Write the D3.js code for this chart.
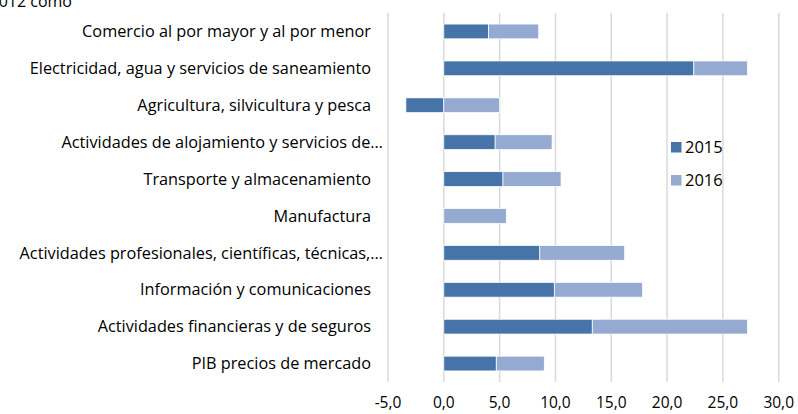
<!DOCTYPE html>
<html>
<head>
<meta charset="utf-8">
<script src="https://cdn.jsdelivr.net/npm/d3@7"></script>
<style>
  body { margin: 0; background: #fff; }
  text { font-family: "Open Sans", Lato, sans-serif; fill: #000; }
</style>
</head>
<body>
<div id="chart"></div>
<script>
  // sectors, top to bottom
  const sectors = [
    "Comercio al por mayor y al por menor",
    "Electricidad, agua y servicios de saneamiento",
    "Agricultura, silvicultura y pesca",
    "Actividades de alojamiento y servicios de…",
    "Transporte y almacenamiento",
    "Manufactura",
    "Actividades profesionales, científicas, técnicas,…",
    "Información y comunicaciones",
    "Actividades financieras y de seguros",
    "PIB precios de mercado"
  ];
  const values2015 = [4.0, 22.4, -3.4, 4.6, 5.3, 0.0, 8.6, 9.9, 13.3, 4.7];
  const values2016 = [4.5, 4.8, 5.0, 5.1, 5.2, 5.6, 7.6, 7.9, 13.9, 4.3];
  const xTicks = [-5, 0, 5, 10, 15, 20, 25, 30];
  const seriesNames = ["2015", "2016"];
  const colors = ["#4674a8", "#95aad1"];

  const width = 798, height = 414;
  const svg = d3.select("#chart").append("svg")
    .attr("width", width)
    .attr("height", height);

  const x = d3.scaleLinear().domain([-5, 30]).range([388, 778.7]);
  const y = d3.scaleBand().domain(sectors).range([13, 382]).paddingInner(0.6).paddingOuter(0.3);

  // cut-off title line at the top
  svg.append("text")
    .attr("x", 72)
    .attr("y", 7)
    .attr("text-anchor", "end")
    .style("font-size", "16px")
    .text("2012 como");

  // vertical gridlines
  svg.append("g").selectAll("line")
    .data(xTicks)
    .enter().append("line")
    .attr("x1", d => x(d)).attr("x2", d => x(d))
    .attr("y1", 13).attr("y2", 382)
    .attr("stroke", "#d9d9d9")
    .attr("stroke-width", 1.5);

  // x tick labels
  svg.append("g").selectAll("text")
    .data(xTicks)
    .enter().append("text")
    .attr("x", d => x(d))
    .attr("y", 408)
    .attr("text-anchor", "middle")
    .style("font-size", "15.5px")
    .text(d => d.toFixed(1).replace(".", ","));

  // stacked bars: 2015 from zero, 2016 after 2015 (positive side from max(0, 2015))
  const rows = sectors.map((s, i) => {
    const a = values2015[i], b = values2016[i];
    const start16 = Math.max(0, a);
    return { s, segs: [
      { k: 0, x0: Math.min(0, a), x1: Math.max(0, a) },
      { k: 1, x0: start16, x1: start16 + b }
    ]};
  });

  const bars = svg.append("g");
  rows.forEach(r => {
    bars.selectAll(null)
      .data(r.segs.filter(d => d.x1 - d.x0 > 0))
      .enter().append("rect")
      .attr("x", d => x(d.x0))
      .attr("y", y(r.s))
      .attr("width", d => x(d.x1) - x(d.x0))
      .attr("height", y.bandwidth())
      .attr("fill", d => colors[d.k])
      .attr("stroke", "#fff")
      .attr("stroke-width", 0.75);
  });

  // category labels
  svg.append("g").selectAll("text")
    .data(sectors)
    .enter().append("text")
    .attr("x", d => d.endsWith("…") ? 383 : 371)
    .attr("y", d => y(d) + y.bandwidth() / 2)
    .attr("dy", "0.35em")
    .attr("text-anchor", "end")
    .style("font-size", "16.3px")
    .text(d => d);

  // legend
  const legend = svg.append("g").selectAll("g")
    .data(seriesNames)
    .enter().append("g")
    .attr("transform", (d, i) => `translate(671, ${142 + i * 33})`);
  legend.append("rect")
    .attr("width", 10.5).attr("height", 10.5)
    .attr("fill", (d, i) => colors[i]);
  legend.append("text")
    .attr("x", 14)
    .attr("y", 5.5)
    .attr("dy", "0.35em")
    .style("font-size", "16.5px")
    .text(d => d);
</script>
</body>
</html>
